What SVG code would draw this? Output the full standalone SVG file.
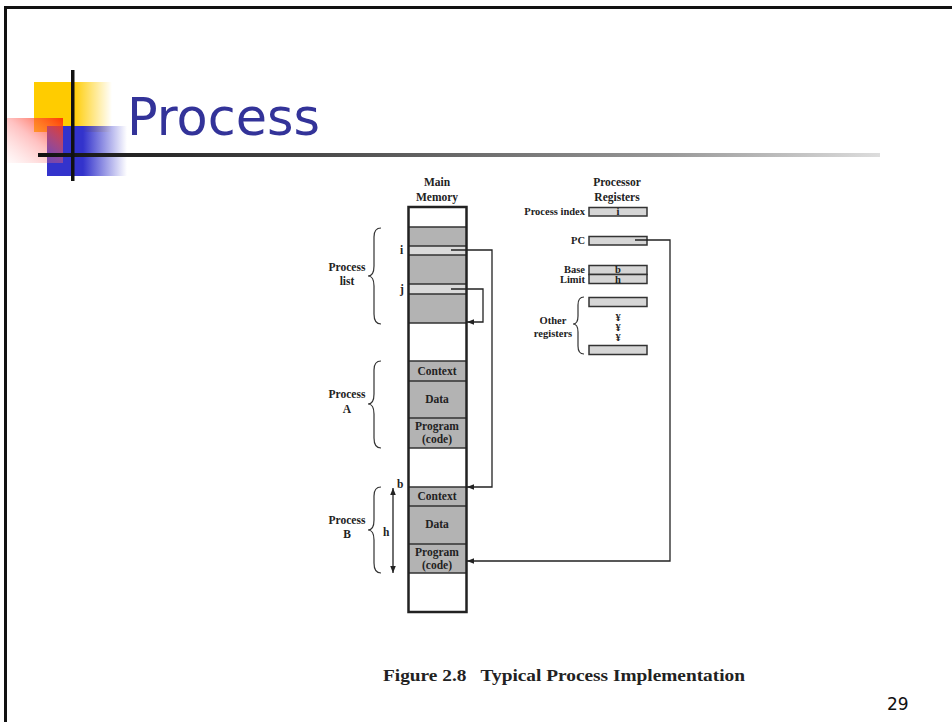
<svg xmlns="http://www.w3.org/2000/svg" width="952" height="722" viewBox="0 0 952 722">
<defs>
<linearGradient id="gY" x1="0" y1="0" x2="1" y2="0"><stop offset="0" stop-color="#ffcc00"/><stop offset="0.5" stop-color="#ffcc00"/><stop offset="1" stop-color="#ffcc00" stop-opacity="0"/></linearGradient>
<linearGradient id="gB" x1="0" y1="0" x2="1" y2="0"><stop offset="0" stop-color="#3333cc"/><stop offset="0.45" stop-color="#3333cc"/><stop offset="1" stop-color="#3333cc" stop-opacity="0"/></linearGradient>
<linearGradient id="gR" x1="1" y1="0" x2="0" y2="1"><stop offset="0" stop-color="#ff3300" stop-opacity="0.95"/><stop offset="0.5" stop-color="#ff6666" stop-opacity="0.4"/><stop offset="1" stop-color="#ff9999" stop-opacity="0.05"/></linearGradient>
<linearGradient id="gL" x1="0" y1="0" x2="1" y2="0"><stop offset="0" stop-color="#111"/><stop offset="0.3" stop-color="#444"/><stop offset="0.75" stop-color="#999"/><stop offset="1" stop-color="#ddd"/></linearGradient>
<marker id="ah" viewBox="0 0 10 10" refX="10" refY="5" markerWidth="7" markerHeight="7" orient="auto-start-reverse" markerUnits="userSpaceOnUse"><path d="M0,1 L10,5 L0,9 Z" fill="#222"/></marker>
</defs>
<style>
.t{font-family:"Liberation Serif","Times New Roman",serif;font-weight:bold;fill:#222}
.s10{font-size:10.5px}
.s11{font-size:11.5px}
.c{text-anchor:middle}
.r{text-anchor:end}
.seg{stroke:#333;stroke-width:1.5}
.g{fill:#b3b3b3}
.lg{fill:#dadada}
.reg{fill:#d6d6d6;stroke:#333;stroke-width:1.5}
.br{fill:none;stroke:#333;stroke-width:1.2}
.cn{fill:none;stroke:#222;stroke-width:1.3}
</style>
<rect width="952" height="722" fill="#fff"/>
<path d="M5.5,722 V7.5 H952" fill="none" stroke="#111" stroke-width="3"/>

<g id="title-deco">
<rect x="34" y="82" width="78" height="50" fill="url(#gY)"/>
<rect x="47" y="126" width="80" height="50" fill="url(#gB)"/>
<rect x="7" y="118" width="56" height="45" fill="url(#gR)"/>
<rect x="38" y="153" width="842" height="4" fill="url(#gL)"/>
<rect x="71" y="70" width="3.5" height="111" fill="#111"/>
</g>
<text x="127" y="135" font-family="Tahoma,'DejaVu Sans',sans-serif" font-size="52" fill="#333399" textLength="193" lengthAdjust="spacingAndGlyphs">Process</text>

<g id="main-memory">
<text class="t s11 c" x="437" y="186">Main</text>
<text class="t s11 c" x="437" y="201">Memory</text>
<rect x="408.5" y="207" width="58" height="405" fill="#fff"/>
<rect class="g" x="408.5" y="227" width="58" height="96"/>
<rect class="lg" x="408.5" y="246" width="58" height="9"/>
<rect class="lg" x="408.5" y="284" width="58" height="10"/>
<rect class="g" x="408.5" y="361" width="58" height="87"/>
<rect class="g" x="408.5" y="487" width="58" height="86"/>
<path class="seg" d="M408.5,227H466.5M408.5,246H466.5M408.5,255H466.5M408.5,284H466.5M408.5,294H466.5M408.5,323H466.5M408.5,361H466.5M408.5,381H466.5M408.5,418H466.5M408.5,448H466.5M408.5,487H466.5M408.5,506H466.5M408.5,544H466.5M408.5,573H466.5"/>
<rect x="408.5" y="207" width="58" height="405" fill="none" stroke="#222" stroke-width="2.5"/>
<text class="t s11" x="400" y="254">i</text>
<text class="t s11" x="400" y="293">j</text>
<text class="t s11 c" x="437" y="375">Context</text>
<text class="t s11 c" x="437" y="403">Data</text>
<text class="t s11 c" x="437" y="430">Program</text>
<text class="t s11 c" x="437" y="443">(code)</text>
<text class="t s11 c" x="437" y="500">Context</text>
<text class="t s11 c" x="437" y="528">Data</text>
<text class="t s11 c" x="437" y="556">Program</text>
<text class="t s11 c" x="437" y="569">(code)</text>
</g>

<g id="process-list-label">
<path class="br" d="M381,228 q-7,0 -7,9 v29 q0,10 -6,10 q6,0 6,10 v28 q0,10 7,10"/>
<text class="t s11 c" x="347" y="271">Process</text>
<text class="t s11 c" x="347" y="285">list</text>
</g>
<g id="process-a-label">
<path class="br" d="M381,361 q-7,0 -7,9 v24 q0,10 -6,10 q6,0 6,10 v24 q0,10 7,10"/>
<text class="t s11 c" x="347" y="398">Process</text>
<text class="t s11 c" x="347" y="413">A</text>
</g>
<g id="process-b-label">
<path class="br" d="M381,487 q-7,0 -7,9 v24 q0,10 -6,10 q6,0 6,10 v23 q0,10 7,10"/>
<text class="t s11 c" x="347" y="524">Process</text>
<text class="t s11 c" x="347" y="538">B</text>
<text class="t s11" x="397" y="488">b</text>
<text class="t s11" x="383" y="536">h</text>
</g>

<g id="processor-registers">
<text class="t s11 c" x="617" y="186">Processor</text>
<text class="t s11 c" x="617" y="201">Registers</text>
<rect class="reg" x="589" y="207.5" width="58" height="8.5"/>
<text class="t s10 c" x="618" y="215">i</text>
<text class="t s10 r" x="585" y="215">Process index</text>
<rect class="reg" x="589" y="236.5" width="58" height="8.5"/>
<text class="t s10 r" x="585" y="244">PC</text>
<rect class="reg" x="589" y="265.5" width="58" height="9"/>
<rect class="reg" x="589" y="274.5" width="58" height="9"/>
<text class="t s10 c" x="618" y="273">b</text>
<text class="t s10 c" x="618" y="283">h</text>
<text class="t s10 r" x="585" y="273">Base</text>
<text class="t s10 r" x="585" y="283">Limit</text>
<rect class="reg" x="589" y="297.5" width="58" height="9"/>
<text class="t s10 c" x="618" y="321">¥</text>
<text class="t s10 c" x="618" y="331">¥</text>
<text class="t s10 c" x="618" y="341">¥</text>
<rect class="reg" x="589" y="345.5" width="58" height="9"/>
<path class="br" d="M584,297 q-6,0 -6,8 v11 q0,8 -5,8 q5,0 5,8 v14 q0,8 6,8"/>
<text class="t s10 c" x="553" y="324">Other</text>
<text class="t s10 c" x="553" y="337">registers</text>
</g>

<g id="connectors">
<polyline class="cn" points="451,250 492,250 492,487 467,487" marker-end="url(#ah)"/>
<polyline class="cn" points="451,289 483,289 483,322 467,322" marker-end="url(#ah)"/>
<polyline class="cn" points="635,240 670,240 670,561 467,561" marker-end="url(#ah)"/>
<line class="cn" x1="393" y1="488" x2="393" y2="573" marker-start="url(#ah)" marker-end="url(#ah)"/>
</g>

<text class="t" x="383" y="681" font-size="17.5" xml:space="preserve" textLength="362" lengthAdjust="spacingAndGlyphs">Figure 2.8   Typical Process Implementation</text>
<text x="887" y="710" font-family="Tahoma,'DejaVu Sans',sans-serif" font-size="17" fill="#111">29</text>
</svg>
